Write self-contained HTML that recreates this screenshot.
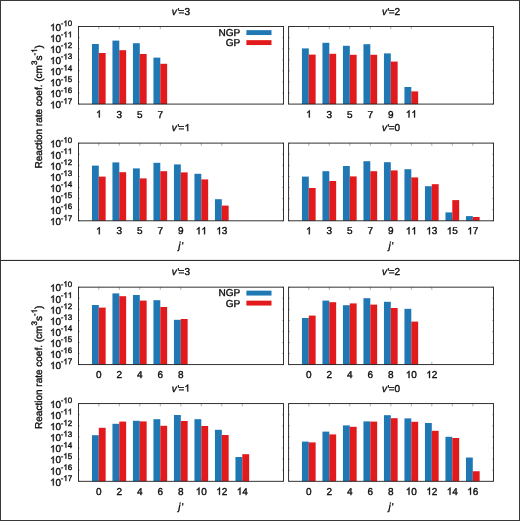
<!DOCTYPE html>
<html><head><meta charset="utf-8"><title>chart</title>
<style>
html,body{margin:0;padding:0;background:#fff;}
body{width:520px;height:521px;overflow:hidden;}
svg{display:block;text-rendering:geometricPrecision;}
.t{font-family:"Liberation Sans",sans-serif;font-size:10px;fill:#0c0c0c;stroke:#0c0c0c;stroke-width:0.36px;}
.s{font-size:8px;}
.g{fill:#0c0c0c;stroke:#0c0c0c;}
</style></head><body>
<svg width="520" height="521" viewBox="0 0 520 521">
<rect x="0" y="0" width="520" height="521" fill="#fff"/>
<defs><path id="o" d="M763 0H583V1147Q518 1085 412.5 1023Q307 961 223 930V1104Q374 1175 487 1276Q600 1377 647 1472H763Z"/></defs>
<g stroke="#555" stroke-width="0.45" fill="none">
<path d="M78.46 26.54h1.4M283.45 26.54h-1.4"/>
<path d="M78.46 37.62h1.4M283.45 37.62h-1.4"/>
<path d="M78.46 48.69h1.4M283.45 48.69h-1.4"/>
<path d="M78.46 59.77h1.4M283.45 59.77h-1.4"/>
<path d="M78.46 70.85h1.4M283.45 70.85h-1.4"/>
<path d="M78.46 81.93h1.4M283.45 81.93h-1.4"/>
<path d="M78.46 93.00h1.4M283.45 93.00h-1.4"/>
<path d="M78.46 104.08h1.4M283.45 104.08h-1.4"/>
<path d="M98.80 26.54v2.8M98.80 104.08v-2.8"/>
<path d="M119.30 26.54v2.8M119.30 104.08v-2.8"/>
<path d="M139.80 26.54v2.8M139.80 104.08v-2.8"/>
<path d="M160.30 26.54v2.8M160.30 104.08v-2.8"/>
</g>
<rect x="91.95" y="44.00" width="6.85" height="60.08" fill="#1f78b4"/>
<rect x="98.80" y="53.00" width="6.85" height="51.08" fill="#e31a1c"/>
<rect x="112.45" y="40.60" width="6.85" height="63.48" fill="#1f78b4"/>
<rect x="119.30" y="50.20" width="6.85" height="53.88" fill="#e31a1c"/>
<rect x="132.95" y="43.20" width="6.85" height="60.88" fill="#1f78b4"/>
<rect x="139.80" y="54.00" width="6.85" height="50.08" fill="#e31a1c"/>
<rect x="153.45" y="57.60" width="6.85" height="46.48" fill="#1f78b4"/>
<rect x="160.30" y="63.80" width="6.85" height="40.28" fill="#e31a1c"/>
<rect x="78.46" y="26.54" width="204.99" height="77.54" fill="none" stroke="#1c1c1c" stroke-width="0.9"/>
<g stroke="#555" stroke-width="0.45" fill="none">
<path d="M288.60 26.54h1.4M493.45 26.54h-1.4"/>
<path d="M288.60 37.62h1.4M493.45 37.62h-1.4"/>
<path d="M288.60 48.69h1.4M493.45 48.69h-1.4"/>
<path d="M288.60 59.77h1.4M493.45 59.77h-1.4"/>
<path d="M288.60 70.85h1.4M493.45 70.85h-1.4"/>
<path d="M288.60 81.93h1.4M493.45 81.93h-1.4"/>
<path d="M288.60 93.00h1.4M493.45 93.00h-1.4"/>
<path d="M288.60 104.08h1.4M493.45 104.08h-1.4"/>
<path d="M308.80 26.54v2.8M308.80 104.08v-2.8"/>
<path d="M329.30 26.54v2.8M329.30 104.08v-2.8"/>
<path d="M349.80 26.54v2.8M349.80 104.08v-2.8"/>
<path d="M370.30 26.54v2.8M370.30 104.08v-2.8"/>
<path d="M390.80 26.54v2.8M390.80 104.08v-2.8"/>
<path d="M411.30 26.54v2.8M411.30 104.08v-2.8"/>
</g>
<rect x="301.95" y="48.40" width="6.85" height="55.68" fill="#1f78b4"/>
<rect x="308.80" y="54.60" width="6.85" height="49.48" fill="#e31a1c"/>
<rect x="322.45" y="42.80" width="6.85" height="61.28" fill="#1f78b4"/>
<rect x="329.30" y="53.80" width="6.85" height="50.28" fill="#e31a1c"/>
<rect x="342.95" y="45.80" width="6.85" height="58.28" fill="#1f78b4"/>
<rect x="349.80" y="54.80" width="6.85" height="49.28" fill="#e31a1c"/>
<rect x="363.45" y="44.20" width="6.85" height="59.88" fill="#1f78b4"/>
<rect x="370.30" y="54.80" width="6.85" height="49.28" fill="#e31a1c"/>
<rect x="383.95" y="53.40" width="6.85" height="50.68" fill="#1f78b4"/>
<rect x="390.80" y="61.60" width="6.85" height="42.48" fill="#e31a1c"/>
<rect x="404.45" y="87.00" width="6.85" height="17.08" fill="#1f78b4"/>
<rect x="411.30" y="91.40" width="6.85" height="12.68" fill="#e31a1c"/>
<rect x="288.60" y="26.54" width="204.85" height="77.54" fill="none" stroke="#1c1c1c" stroke-width="0.9"/>
<g stroke="#555" stroke-width="0.45" fill="none">
<path d="M78.46 143.10h1.4M283.45 143.10h-1.4"/>
<path d="M78.46 154.20h1.4M283.45 154.20h-1.4"/>
<path d="M78.46 165.30h1.4M283.45 165.30h-1.4"/>
<path d="M78.46 176.40h1.4M283.45 176.40h-1.4"/>
<path d="M78.46 187.50h1.4M283.45 187.50h-1.4"/>
<path d="M78.46 198.60h1.4M283.45 198.60h-1.4"/>
<path d="M78.46 209.70h1.4M283.45 209.70h-1.4"/>
<path d="M78.46 220.80h1.4M283.45 220.80h-1.4"/>
<path d="M98.80 143.10v2.8M98.80 220.80v-2.8"/>
<path d="M119.30 143.10v2.8M119.30 220.80v-2.8"/>
<path d="M139.80 143.10v2.8M139.80 220.80v-2.8"/>
<path d="M160.30 143.10v2.8M160.30 220.80v-2.8"/>
<path d="M180.80 143.10v2.8M180.80 220.80v-2.8"/>
<path d="M201.30 143.10v2.8M201.30 220.80v-2.8"/>
<path d="M221.80 143.10v2.8M221.80 220.80v-2.8"/>
</g>
<rect x="91.95" y="165.60" width="6.85" height="55.20" fill="#1f78b4"/>
<rect x="98.80" y="176.60" width="6.85" height="44.20" fill="#e31a1c"/>
<rect x="112.45" y="162.40" width="6.85" height="58.40" fill="#1f78b4"/>
<rect x="119.30" y="172.20" width="6.85" height="48.60" fill="#e31a1c"/>
<rect x="132.95" y="168.40" width="6.85" height="52.40" fill="#1f78b4"/>
<rect x="139.80" y="178.40" width="6.85" height="42.40" fill="#e31a1c"/>
<rect x="153.45" y="162.80" width="6.85" height="58.00" fill="#1f78b4"/>
<rect x="160.30" y="171.20" width="6.85" height="49.60" fill="#e31a1c"/>
<rect x="173.95" y="164.40" width="6.85" height="56.40" fill="#1f78b4"/>
<rect x="180.80" y="172.40" width="6.85" height="48.40" fill="#e31a1c"/>
<rect x="194.45" y="173.80" width="6.85" height="47.00" fill="#1f78b4"/>
<rect x="201.30" y="179.40" width="6.85" height="41.40" fill="#e31a1c"/>
<rect x="214.95" y="199.20" width="6.85" height="21.60" fill="#1f78b4"/>
<rect x="221.80" y="205.60" width="6.85" height="15.20" fill="#e31a1c"/>
<rect x="78.46" y="143.10" width="204.99" height="77.70" fill="none" stroke="#1c1c1c" stroke-width="0.9"/>
<g stroke="#555" stroke-width="0.45" fill="none">
<path d="M288.60 143.10h1.4M493.45 143.10h-1.4"/>
<path d="M288.60 154.20h1.4M493.45 154.20h-1.4"/>
<path d="M288.60 165.30h1.4M493.45 165.30h-1.4"/>
<path d="M288.60 176.40h1.4M493.45 176.40h-1.4"/>
<path d="M288.60 187.50h1.4M493.45 187.50h-1.4"/>
<path d="M288.60 198.60h1.4M493.45 198.60h-1.4"/>
<path d="M288.60 209.70h1.4M493.45 209.70h-1.4"/>
<path d="M288.60 220.80h1.4M493.45 220.80h-1.4"/>
<path d="M308.80 143.10v2.8M308.80 220.80v-2.8"/>
<path d="M329.30 143.10v2.8M329.30 220.80v-2.8"/>
<path d="M349.80 143.10v2.8M349.80 220.80v-2.8"/>
<path d="M370.30 143.10v2.8M370.30 220.80v-2.8"/>
<path d="M390.80 143.10v2.8M390.80 220.80v-2.8"/>
<path d="M411.30 143.10v2.8M411.30 220.80v-2.8"/>
<path d="M431.80 143.10v2.8M431.80 220.80v-2.8"/>
<path d="M452.30 143.10v2.8M452.30 220.80v-2.8"/>
<path d="M472.80 143.10v2.8M472.80 220.80v-2.8"/>
</g>
<rect x="301.95" y="176.60" width="6.85" height="44.20" fill="#1f78b4"/>
<rect x="308.80" y="188.00" width="6.85" height="32.80" fill="#e31a1c"/>
<rect x="322.45" y="171.20" width="6.85" height="49.60" fill="#1f78b4"/>
<rect x="329.30" y="181.00" width="6.85" height="39.80" fill="#e31a1c"/>
<rect x="342.95" y="166.00" width="6.85" height="54.80" fill="#1f78b4"/>
<rect x="349.80" y="176.40" width="6.85" height="44.40" fill="#e31a1c"/>
<rect x="363.45" y="161.20" width="6.85" height="59.60" fill="#1f78b4"/>
<rect x="370.30" y="171.20" width="6.85" height="49.60" fill="#e31a1c"/>
<rect x="383.95" y="162.20" width="6.85" height="58.60" fill="#1f78b4"/>
<rect x="390.80" y="170.40" width="6.85" height="50.40" fill="#e31a1c"/>
<rect x="404.45" y="169.20" width="6.85" height="51.60" fill="#1f78b4"/>
<rect x="411.30" y="177.40" width="6.85" height="43.40" fill="#e31a1c"/>
<rect x="424.95" y="186.20" width="6.85" height="34.60" fill="#1f78b4"/>
<rect x="431.80" y="184.20" width="6.85" height="36.60" fill="#e31a1c"/>
<rect x="445.45" y="212.40" width="6.85" height="8.40" fill="#1f78b4"/>
<rect x="452.30" y="200.10" width="6.85" height="20.70" fill="#e31a1c"/>
<rect x="465.95" y="216.10" width="6.85" height="4.70" fill="#1f78b4"/>
<rect x="472.80" y="217.00" width="6.85" height="3.80" fill="#e31a1c"/>
<rect x="288.60" y="143.10" width="204.85" height="77.70" fill="none" stroke="#1c1c1c" stroke-width="0.9"/>
<g stroke="#555" stroke-width="0.45" fill="none">
<path d="M78.46 287.15h1.4M283.45 287.15h-1.4"/>
<path d="M78.46 298.21h1.4M283.45 298.21h-1.4"/>
<path d="M78.46 309.28h1.4M283.45 309.28h-1.4"/>
<path d="M78.46 320.34h1.4M283.45 320.34h-1.4"/>
<path d="M78.46 331.41h1.4M283.45 331.41h-1.4"/>
<path d="M78.46 342.47h1.4M283.45 342.47h-1.4"/>
<path d="M78.46 353.54h1.4M283.45 353.54h-1.4"/>
<path d="M78.46 364.60h1.4M283.45 364.60h-1.4"/>
<path d="M98.80 287.15v2.8M98.80 364.60v-2.8"/>
<path d="M119.30 287.15v2.8M119.30 364.60v-2.8"/>
<path d="M139.80 287.15v2.8M139.80 364.60v-2.8"/>
<path d="M160.30 287.15v2.8M160.30 364.60v-2.8"/>
<path d="M180.80 287.15v2.8M180.80 364.60v-2.8"/>
</g>
<rect x="91.95" y="305.00" width="6.85" height="59.60" fill="#1f78b4"/>
<rect x="98.80" y="307.60" width="6.85" height="57.00" fill="#e31a1c"/>
<rect x="112.45" y="293.40" width="6.85" height="71.20" fill="#1f78b4"/>
<rect x="119.30" y="296.20" width="6.85" height="68.40" fill="#e31a1c"/>
<rect x="132.95" y="295.00" width="6.85" height="69.60" fill="#1f78b4"/>
<rect x="139.80" y="300.60" width="6.85" height="64.00" fill="#e31a1c"/>
<rect x="153.45" y="300.20" width="6.85" height="64.40" fill="#1f78b4"/>
<rect x="160.30" y="307.00" width="6.85" height="57.60" fill="#e31a1c"/>
<rect x="173.95" y="319.80" width="6.85" height="44.80" fill="#1f78b4"/>
<rect x="180.80" y="319.00" width="6.85" height="45.60" fill="#e31a1c"/>
<rect x="78.46" y="287.15" width="204.99" height="77.45" fill="none" stroke="#1c1c1c" stroke-width="0.9"/>
<g stroke="#555" stroke-width="0.45" fill="none">
<path d="M288.60 287.15h1.4M493.45 287.15h-1.4"/>
<path d="M288.60 298.21h1.4M493.45 298.21h-1.4"/>
<path d="M288.60 309.28h1.4M493.45 309.28h-1.4"/>
<path d="M288.60 320.34h1.4M493.45 320.34h-1.4"/>
<path d="M288.60 331.41h1.4M493.45 331.41h-1.4"/>
<path d="M288.60 342.47h1.4M493.45 342.47h-1.4"/>
<path d="M288.60 353.54h1.4M493.45 353.54h-1.4"/>
<path d="M288.60 364.60h1.4M493.45 364.60h-1.4"/>
<path d="M308.80 287.15v2.8M308.80 364.60v-2.8"/>
<path d="M329.30 287.15v2.8M329.30 364.60v-2.8"/>
<path d="M349.80 287.15v2.8M349.80 364.60v-2.8"/>
<path d="M370.30 287.15v2.8M370.30 364.60v-2.8"/>
<path d="M390.80 287.15v2.8M390.80 364.60v-2.8"/>
<path d="M411.30 287.15v2.8M411.30 364.60v-2.8"/>
<path d="M431.80 287.15v2.8M431.80 364.60v-2.8"/>
</g>
<rect x="301.95" y="318.00" width="6.85" height="46.60" fill="#1f78b4"/>
<rect x="308.80" y="315.60" width="6.85" height="49.00" fill="#e31a1c"/>
<rect x="322.45" y="300.60" width="6.85" height="64.00" fill="#1f78b4"/>
<rect x="329.30" y="302.20" width="6.85" height="62.40" fill="#e31a1c"/>
<rect x="342.95" y="305.20" width="6.85" height="59.40" fill="#1f78b4"/>
<rect x="349.80" y="303.40" width="6.85" height="61.20" fill="#e31a1c"/>
<rect x="363.45" y="298.20" width="6.85" height="66.40" fill="#1f78b4"/>
<rect x="370.30" y="304.60" width="6.85" height="60.00" fill="#e31a1c"/>
<rect x="383.95" y="301.80" width="6.85" height="62.80" fill="#1f78b4"/>
<rect x="390.80" y="308.00" width="6.85" height="56.60" fill="#e31a1c"/>
<rect x="404.45" y="308.80" width="6.85" height="55.80" fill="#1f78b4"/>
<rect x="411.30" y="321.60" width="6.85" height="43.00" fill="#e31a1c"/>
<rect x="288.60" y="287.15" width="204.85" height="77.45" fill="none" stroke="#1c1c1c" stroke-width="0.9"/>
<g stroke="#555" stroke-width="0.45" fill="none">
<path d="M78.46 403.60h1.4M283.45 403.60h-1.4"/>
<path d="M78.46 414.70h1.4M283.45 414.70h-1.4"/>
<path d="M78.46 425.80h1.4M283.45 425.80h-1.4"/>
<path d="M78.46 436.90h1.4M283.45 436.90h-1.4"/>
<path d="M78.46 448.00h1.4M283.45 448.00h-1.4"/>
<path d="M78.46 459.10h1.4M283.45 459.10h-1.4"/>
<path d="M78.46 470.20h1.4M283.45 470.20h-1.4"/>
<path d="M78.46 481.30h1.4M283.45 481.30h-1.4"/>
<path d="M98.80 403.60v2.8M98.80 481.30v-2.8"/>
<path d="M119.30 403.60v2.8M119.30 481.30v-2.8"/>
<path d="M139.80 403.60v2.8M139.80 481.30v-2.8"/>
<path d="M160.30 403.60v2.8M160.30 481.30v-2.8"/>
<path d="M180.80 403.60v2.8M180.80 481.30v-2.8"/>
<path d="M201.30 403.60v2.8M201.30 481.30v-2.8"/>
<path d="M221.80 403.60v2.8M221.80 481.30v-2.8"/>
<path d="M242.30 403.60v2.8M242.30 481.30v-2.8"/>
</g>
<rect x="91.95" y="435.20" width="6.85" height="46.10" fill="#1f78b4"/>
<rect x="98.80" y="427.80" width="6.85" height="53.50" fill="#e31a1c"/>
<rect x="112.45" y="423.80" width="6.85" height="57.50" fill="#1f78b4"/>
<rect x="119.30" y="421.60" width="6.85" height="59.70" fill="#e31a1c"/>
<rect x="132.95" y="420.80" width="6.85" height="60.50" fill="#1f78b4"/>
<rect x="139.80" y="421.40" width="6.85" height="59.90" fill="#e31a1c"/>
<rect x="153.45" y="419.20" width="6.85" height="62.10" fill="#1f78b4"/>
<rect x="160.30" y="425.80" width="6.85" height="55.50" fill="#e31a1c"/>
<rect x="173.95" y="415.00" width="6.85" height="66.30" fill="#1f78b4"/>
<rect x="180.80" y="421.00" width="6.85" height="60.30" fill="#e31a1c"/>
<rect x="194.45" y="419.20" width="6.85" height="62.10" fill="#1f78b4"/>
<rect x="201.30" y="426.00" width="6.85" height="55.30" fill="#e31a1c"/>
<rect x="214.95" y="429.80" width="6.85" height="51.50" fill="#1f78b4"/>
<rect x="221.80" y="435.00" width="6.85" height="46.30" fill="#e31a1c"/>
<rect x="235.45" y="457.00" width="6.85" height="24.30" fill="#1f78b4"/>
<rect x="242.30" y="454.20" width="6.85" height="27.10" fill="#e31a1c"/>
<rect x="78.46" y="403.60" width="204.99" height="77.70" fill="none" stroke="#1c1c1c" stroke-width="0.9"/>
<g stroke="#555" stroke-width="0.45" fill="none">
<path d="M288.60 403.60h1.4M493.45 403.60h-1.4"/>
<path d="M288.60 414.70h1.4M493.45 414.70h-1.4"/>
<path d="M288.60 425.80h1.4M493.45 425.80h-1.4"/>
<path d="M288.60 436.90h1.4M493.45 436.90h-1.4"/>
<path d="M288.60 448.00h1.4M493.45 448.00h-1.4"/>
<path d="M288.60 459.10h1.4M493.45 459.10h-1.4"/>
<path d="M288.60 470.20h1.4M493.45 470.20h-1.4"/>
<path d="M288.60 481.30h1.4M493.45 481.30h-1.4"/>
<path d="M308.80 403.60v2.8M308.80 481.30v-2.8"/>
<path d="M329.30 403.60v2.8M329.30 481.30v-2.8"/>
<path d="M349.80 403.60v2.8M349.80 481.30v-2.8"/>
<path d="M370.30 403.60v2.8M370.30 481.30v-2.8"/>
<path d="M390.80 403.60v2.8M390.80 481.30v-2.8"/>
<path d="M411.30 403.60v2.8M411.30 481.30v-2.8"/>
<path d="M431.80 403.60v2.8M431.80 481.30v-2.8"/>
<path d="M452.30 403.60v2.8M452.30 481.30v-2.8"/>
<path d="M472.80 403.60v2.8M472.80 481.30v-2.8"/>
</g>
<rect x="301.95" y="441.60" width="6.85" height="39.70" fill="#1f78b4"/>
<rect x="308.80" y="442.40" width="6.85" height="38.90" fill="#e31a1c"/>
<rect x="322.45" y="431.60" width="6.85" height="49.70" fill="#1f78b4"/>
<rect x="329.30" y="434.40" width="6.85" height="46.90" fill="#e31a1c"/>
<rect x="342.95" y="425.40" width="6.85" height="55.90" fill="#1f78b4"/>
<rect x="349.80" y="426.80" width="6.85" height="54.50" fill="#e31a1c"/>
<rect x="363.45" y="421.40" width="6.85" height="59.90" fill="#1f78b4"/>
<rect x="370.30" y="421.60" width="6.85" height="59.70" fill="#e31a1c"/>
<rect x="383.95" y="415.20" width="6.85" height="66.10" fill="#1f78b4"/>
<rect x="390.80" y="418.20" width="6.85" height="63.10" fill="#e31a1c"/>
<rect x="404.45" y="418.40" width="6.85" height="62.90" fill="#1f78b4"/>
<rect x="411.30" y="421.80" width="6.85" height="59.50" fill="#e31a1c"/>
<rect x="424.95" y="423.00" width="6.85" height="58.30" fill="#1f78b4"/>
<rect x="431.80" y="430.80" width="6.85" height="50.50" fill="#e31a1c"/>
<rect x="445.45" y="436.80" width="6.85" height="44.50" fill="#1f78b4"/>
<rect x="452.30" y="438.00" width="6.85" height="43.30" fill="#e31a1c"/>
<rect x="465.95" y="457.50" width="6.85" height="23.80" fill="#1f78b4"/>
<rect x="472.80" y="471.25" width="6.85" height="10.05" fill="#e31a1c"/>
<rect x="288.60" y="403.60" width="204.85" height="77.70" fill="none" stroke="#1c1c1c" stroke-width="0.9"/>
<rect x="246.4" y="30.15" width="25.1" height="4.9" fill="#1f78b4"/>
<rect x="246.4" y="40.15" width="25.1" height="4.9" fill="#e31a1c"/>
<rect x="246.4" y="290.65" width="25.1" height="4.9" fill="#1f78b4"/>
<rect x="246.4" y="300.65" width="25.1" height="4.9" fill="#e31a1c"/>
<g style="filter:grayscale(1)">
<text class="t" x="171.80" y="14.54"><tspan font-style="italic">v</tspan><tspan dx="0.6">'</tspan><tspan dx="-0.7">=</tspan></text>
<text class="t" x="184.45" y="14.54">3</text>
<use class="g" href="#o" stroke-width="73.7" transform="translate(96.02 117.53) scale(0.00488 -0.00488)"/>
<text class="t" x="116.52" y="117.53">3</text>
<text class="t" x="137.02" y="117.53">5</text>
<text class="t" x="157.52" y="117.53">7</text>
<use class="g" href="#o" stroke-width="73.7" transform="translate(50.00 30.84) scale(0.00488 -0.00488)"/>
<text class="t" x="55.56" y="30.84">0</text>
<text class="t s" x="60.65" y="26.24">-</text>
<use class="g" href="#o" stroke-width="92.2" transform="translate(63.31 26.24) scale(0.00391 -0.00391)"/>
<text class="t s" x="67.76" y="26.24">0</text>
<use class="g" href="#o" stroke-width="73.7" transform="translate(50.00 41.92) scale(0.00488 -0.00488)"/>
<text class="t" x="55.56" y="41.92">0</text>
<text class="t s" x="60.65" y="37.32">-</text>
<use class="g" href="#o" stroke-width="92.2" transform="translate(63.31 37.32) scale(0.00391 -0.00391)"/>
<use class="g" href="#o" stroke-width="92.2" transform="translate(67.76 37.32) scale(0.00391 -0.00391)"/>
<use class="g" href="#o" stroke-width="73.7" transform="translate(50.00 52.99) scale(0.00488 -0.00488)"/>
<text class="t" x="55.56" y="52.99">0</text>
<text class="t s" x="60.65" y="48.39">-</text>
<use class="g" href="#o" stroke-width="92.2" transform="translate(63.31 48.39) scale(0.00391 -0.00391)"/>
<text class="t s" x="67.76" y="48.39">2</text>
<use class="g" href="#o" stroke-width="73.7" transform="translate(50.00 64.07) scale(0.00488 -0.00488)"/>
<text class="t" x="55.56" y="64.07">0</text>
<text class="t s" x="60.65" y="59.47">-</text>
<use class="g" href="#o" stroke-width="92.2" transform="translate(63.31 59.47) scale(0.00391 -0.00391)"/>
<text class="t s" x="67.76" y="59.47">3</text>
<use class="g" href="#o" stroke-width="73.7" transform="translate(50.00 75.15) scale(0.00488 -0.00488)"/>
<text class="t" x="55.56" y="75.15">0</text>
<text class="t s" x="60.65" y="70.55">-</text>
<use class="g" href="#o" stroke-width="92.2" transform="translate(63.31 70.55) scale(0.00391 -0.00391)"/>
<text class="t s" x="67.76" y="70.55">4</text>
<use class="g" href="#o" stroke-width="73.7" transform="translate(50.00 86.23) scale(0.00488 -0.00488)"/>
<text class="t" x="55.56" y="86.23">0</text>
<text class="t s" x="60.65" y="81.63">-</text>
<use class="g" href="#o" stroke-width="92.2" transform="translate(63.31 81.63) scale(0.00391 -0.00391)"/>
<text class="t s" x="67.76" y="81.63">5</text>
<use class="g" href="#o" stroke-width="73.7" transform="translate(50.00 97.30) scale(0.00488 -0.00488)"/>
<text class="t" x="55.56" y="97.30">0</text>
<text class="t s" x="60.65" y="92.70">-</text>
<use class="g" href="#o" stroke-width="92.2" transform="translate(63.31 92.70) scale(0.00391 -0.00391)"/>
<text class="t s" x="67.76" y="92.70">6</text>
<use class="g" href="#o" stroke-width="73.7" transform="translate(50.00 108.38) scale(0.00488 -0.00488)"/>
<text class="t" x="55.56" y="108.38">0</text>
<text class="t s" x="60.65" y="103.78">-</text>
<use class="g" href="#o" stroke-width="92.2" transform="translate(63.31 103.78) scale(0.00391 -0.00391)"/>
<text class="t s" x="67.76" y="103.78">7</text>
<text class="t" x="381.88" y="14.54"><tspan font-style="italic">v</tspan><tspan dx="0.6">'</tspan><tspan dx="-0.7">=</tspan></text>
<text class="t" x="394.52" y="14.54">2</text>
<use class="g" href="#o" stroke-width="73.7" transform="translate(306.02 117.53) scale(0.00488 -0.00488)"/>
<text class="t" x="326.52" y="117.53">3</text>
<text class="t" x="347.02" y="117.53">5</text>
<text class="t" x="367.52" y="117.53">7</text>
<text class="t" x="388.02" y="117.53">9</text>
<use class="g" href="#o" stroke-width="73.7" transform="translate(405.74 117.53) scale(0.00488 -0.00488)"/>
<use class="g" href="#o" stroke-width="73.7" transform="translate(411.30 117.53) scale(0.00488 -0.00488)"/>
<text class="t" x="171.80" y="131.10"><tspan font-style="italic">v</tspan><tspan dx="0.6">'</tspan><tspan dx="-0.7">=</tspan></text>
<use class="g" href="#o" stroke-width="73.7" transform="translate(184.45 131.10) scale(0.00488 -0.00488)"/>
<use class="g" href="#o" stroke-width="73.7" transform="translate(96.02 234.25) scale(0.00488 -0.00488)"/>
<text class="t" x="116.52" y="234.25">3</text>
<text class="t" x="137.02" y="234.25">5</text>
<text class="t" x="157.52" y="234.25">7</text>
<text class="t" x="178.02" y="234.25">9</text>
<use class="g" href="#o" stroke-width="73.7" transform="translate(195.74 234.25) scale(0.00488 -0.00488)"/>
<use class="g" href="#o" stroke-width="73.7" transform="translate(201.30 234.25) scale(0.00488 -0.00488)"/>
<use class="g" href="#o" stroke-width="73.7" transform="translate(216.24 234.25) scale(0.00488 -0.00488)"/>
<text class="t" x="221.80" y="234.25">3</text>
<use class="g" href="#o" stroke-width="73.7" transform="translate(50.00 147.40) scale(0.00488 -0.00488)"/>
<text class="t" x="55.56" y="147.40">0</text>
<text class="t s" x="60.65" y="142.80">-</text>
<use class="g" href="#o" stroke-width="92.2" transform="translate(63.31 142.80) scale(0.00391 -0.00391)"/>
<text class="t s" x="67.76" y="142.80">0</text>
<use class="g" href="#o" stroke-width="73.7" transform="translate(50.00 158.50) scale(0.00488 -0.00488)"/>
<text class="t" x="55.56" y="158.50">0</text>
<text class="t s" x="60.65" y="153.90">-</text>
<use class="g" href="#o" stroke-width="92.2" transform="translate(63.31 153.90) scale(0.00391 -0.00391)"/>
<use class="g" href="#o" stroke-width="92.2" transform="translate(67.76 153.90) scale(0.00391 -0.00391)"/>
<use class="g" href="#o" stroke-width="73.7" transform="translate(50.00 169.60) scale(0.00488 -0.00488)"/>
<text class="t" x="55.56" y="169.60">0</text>
<text class="t s" x="60.65" y="165.00">-</text>
<use class="g" href="#o" stroke-width="92.2" transform="translate(63.31 165.00) scale(0.00391 -0.00391)"/>
<text class="t s" x="67.76" y="165.00">2</text>
<use class="g" href="#o" stroke-width="73.7" transform="translate(50.00 180.70) scale(0.00488 -0.00488)"/>
<text class="t" x="55.56" y="180.70">0</text>
<text class="t s" x="60.65" y="176.10">-</text>
<use class="g" href="#o" stroke-width="92.2" transform="translate(63.31 176.10) scale(0.00391 -0.00391)"/>
<text class="t s" x="67.76" y="176.10">3</text>
<use class="g" href="#o" stroke-width="73.7" transform="translate(50.00 191.80) scale(0.00488 -0.00488)"/>
<text class="t" x="55.56" y="191.80">0</text>
<text class="t s" x="60.65" y="187.20">-</text>
<use class="g" href="#o" stroke-width="92.2" transform="translate(63.31 187.20) scale(0.00391 -0.00391)"/>
<text class="t s" x="67.76" y="187.20">4</text>
<use class="g" href="#o" stroke-width="73.7" transform="translate(50.00 202.90) scale(0.00488 -0.00488)"/>
<text class="t" x="55.56" y="202.90">0</text>
<text class="t s" x="60.65" y="198.30">-</text>
<use class="g" href="#o" stroke-width="92.2" transform="translate(63.31 198.30) scale(0.00391 -0.00391)"/>
<text class="t s" x="67.76" y="198.30">5</text>
<use class="g" href="#o" stroke-width="73.7" transform="translate(50.00 214.00) scale(0.00488 -0.00488)"/>
<text class="t" x="55.56" y="214.00">0</text>
<text class="t s" x="60.65" y="209.40">-</text>
<use class="g" href="#o" stroke-width="92.2" transform="translate(63.31 209.40) scale(0.00391 -0.00391)"/>
<text class="t s" x="67.76" y="209.40">6</text>
<use class="g" href="#o" stroke-width="73.7" transform="translate(50.00 225.10) scale(0.00488 -0.00488)"/>
<text class="t" x="55.56" y="225.10">0</text>
<text class="t s" x="60.65" y="220.50">-</text>
<use class="g" href="#o" stroke-width="92.2" transform="translate(63.31 220.50) scale(0.00391 -0.00391)"/>
<text class="t s" x="67.76" y="220.50">7</text>
<text class="t" x="180.95" y="249.10" text-anchor="middle"><tspan font-style="italic">j</tspan><tspan dx="1.1">'</tspan></text>
<text class="t" x="381.88" y="131.10"><tspan font-style="italic">v</tspan><tspan dx="0.6">'</tspan><tspan dx="-0.7">=</tspan></text>
<text class="t" x="394.52" y="131.10">0</text>
<use class="g" href="#o" stroke-width="73.7" transform="translate(306.02 234.25) scale(0.00488 -0.00488)"/>
<text class="t" x="326.52" y="234.25">3</text>
<text class="t" x="347.02" y="234.25">5</text>
<text class="t" x="367.52" y="234.25">7</text>
<text class="t" x="388.02" y="234.25">9</text>
<use class="g" href="#o" stroke-width="73.7" transform="translate(405.74 234.25) scale(0.00488 -0.00488)"/>
<use class="g" href="#o" stroke-width="73.7" transform="translate(411.30 234.25) scale(0.00488 -0.00488)"/>
<use class="g" href="#o" stroke-width="73.7" transform="translate(426.24 234.25) scale(0.00488 -0.00488)"/>
<text class="t" x="431.80" y="234.25">3</text>
<use class="g" href="#o" stroke-width="73.7" transform="translate(446.74 234.25) scale(0.00488 -0.00488)"/>
<text class="t" x="452.30" y="234.25">5</text>
<use class="g" href="#o" stroke-width="73.7" transform="translate(467.24 234.25) scale(0.00488 -0.00488)"/>
<text class="t" x="472.80" y="234.25">7</text>
<text class="t" x="391.02" y="249.10" text-anchor="middle"><tspan font-style="italic">j</tspan><tspan dx="1.1">'</tspan></text>
<text class="t" x="171.80" y="275.15"><tspan font-style="italic">v</tspan><tspan dx="0.6">'</tspan><tspan dx="-0.7">=</tspan></text>
<text class="t" x="184.45" y="275.15">3</text>
<text class="t" x="96.02" y="378.05">0</text>
<text class="t" x="116.52" y="378.05">2</text>
<text class="t" x="137.02" y="378.05">4</text>
<text class="t" x="157.52" y="378.05">6</text>
<text class="t" x="178.02" y="378.05">8</text>
<use class="g" href="#o" stroke-width="73.7" transform="translate(50.00 291.45) scale(0.00488 -0.00488)"/>
<text class="t" x="55.56" y="291.45">0</text>
<text class="t s" x="60.65" y="286.85">-</text>
<use class="g" href="#o" stroke-width="92.2" transform="translate(63.31 286.85) scale(0.00391 -0.00391)"/>
<text class="t s" x="67.76" y="286.85">0</text>
<use class="g" href="#o" stroke-width="73.7" transform="translate(50.00 302.51) scale(0.00488 -0.00488)"/>
<text class="t" x="55.56" y="302.51">0</text>
<text class="t s" x="60.65" y="297.91">-</text>
<use class="g" href="#o" stroke-width="92.2" transform="translate(63.31 297.91) scale(0.00391 -0.00391)"/>
<use class="g" href="#o" stroke-width="92.2" transform="translate(67.76 297.91) scale(0.00391 -0.00391)"/>
<use class="g" href="#o" stroke-width="73.7" transform="translate(50.00 313.58) scale(0.00488 -0.00488)"/>
<text class="t" x="55.56" y="313.58">0</text>
<text class="t s" x="60.65" y="308.98">-</text>
<use class="g" href="#o" stroke-width="92.2" transform="translate(63.31 308.98) scale(0.00391 -0.00391)"/>
<text class="t s" x="67.76" y="308.98">2</text>
<use class="g" href="#o" stroke-width="73.7" transform="translate(50.00 324.64) scale(0.00488 -0.00488)"/>
<text class="t" x="55.56" y="324.64">0</text>
<text class="t s" x="60.65" y="320.04">-</text>
<use class="g" href="#o" stroke-width="92.2" transform="translate(63.31 320.04) scale(0.00391 -0.00391)"/>
<text class="t s" x="67.76" y="320.04">3</text>
<use class="g" href="#o" stroke-width="73.7" transform="translate(50.00 335.71) scale(0.00488 -0.00488)"/>
<text class="t" x="55.56" y="335.71">0</text>
<text class="t s" x="60.65" y="331.11">-</text>
<use class="g" href="#o" stroke-width="92.2" transform="translate(63.31 331.11) scale(0.00391 -0.00391)"/>
<text class="t s" x="67.76" y="331.11">4</text>
<use class="g" href="#o" stroke-width="73.7" transform="translate(50.00 346.77) scale(0.00488 -0.00488)"/>
<text class="t" x="55.56" y="346.77">0</text>
<text class="t s" x="60.65" y="342.17">-</text>
<use class="g" href="#o" stroke-width="92.2" transform="translate(63.31 342.17) scale(0.00391 -0.00391)"/>
<text class="t s" x="67.76" y="342.17">5</text>
<use class="g" href="#o" stroke-width="73.7" transform="translate(50.00 357.84) scale(0.00488 -0.00488)"/>
<text class="t" x="55.56" y="357.84">0</text>
<text class="t s" x="60.65" y="353.24">-</text>
<use class="g" href="#o" stroke-width="92.2" transform="translate(63.31 353.24) scale(0.00391 -0.00391)"/>
<text class="t s" x="67.76" y="353.24">6</text>
<use class="g" href="#o" stroke-width="73.7" transform="translate(50.00 368.90) scale(0.00488 -0.00488)"/>
<text class="t" x="55.56" y="368.90">0</text>
<text class="t s" x="60.65" y="364.30">-</text>
<use class="g" href="#o" stroke-width="92.2" transform="translate(63.31 364.30) scale(0.00391 -0.00391)"/>
<text class="t s" x="67.76" y="364.30">7</text>
<text class="t" x="381.88" y="275.15"><tspan font-style="italic">v</tspan><tspan dx="0.6">'</tspan><tspan dx="-0.7">=</tspan></text>
<text class="t" x="394.52" y="275.15">2</text>
<text class="t" x="306.02" y="378.05">0</text>
<text class="t" x="326.52" y="378.05">2</text>
<text class="t" x="347.02" y="378.05">4</text>
<text class="t" x="367.52" y="378.05">6</text>
<text class="t" x="388.02" y="378.05">8</text>
<use class="g" href="#o" stroke-width="73.7" transform="translate(405.74 378.05) scale(0.00488 -0.00488)"/>
<text class="t" x="411.30" y="378.05">0</text>
<use class="g" href="#o" stroke-width="73.7" transform="translate(426.24 378.05) scale(0.00488 -0.00488)"/>
<text class="t" x="431.80" y="378.05">2</text>
<text class="t" x="171.80" y="391.60"><tspan font-style="italic">v</tspan><tspan dx="0.6">'</tspan><tspan dx="-0.7">=</tspan></text>
<use class="g" href="#o" stroke-width="73.7" transform="translate(184.45 391.60) scale(0.00488 -0.00488)"/>
<text class="t" x="96.02" y="494.75">0</text>
<text class="t" x="116.52" y="494.75">2</text>
<text class="t" x="137.02" y="494.75">4</text>
<text class="t" x="157.52" y="494.75">6</text>
<text class="t" x="178.02" y="494.75">8</text>
<use class="g" href="#o" stroke-width="73.7" transform="translate(195.74 494.75) scale(0.00488 -0.00488)"/>
<text class="t" x="201.30" y="494.75">0</text>
<use class="g" href="#o" stroke-width="73.7" transform="translate(216.24 494.75) scale(0.00488 -0.00488)"/>
<text class="t" x="221.80" y="494.75">2</text>
<use class="g" href="#o" stroke-width="73.7" transform="translate(236.74 494.75) scale(0.00488 -0.00488)"/>
<text class="t" x="242.30" y="494.75">4</text>
<use class="g" href="#o" stroke-width="73.7" transform="translate(50.00 407.90) scale(0.00488 -0.00488)"/>
<text class="t" x="55.56" y="407.90">0</text>
<text class="t s" x="60.65" y="403.30">-</text>
<use class="g" href="#o" stroke-width="92.2" transform="translate(63.31 403.30) scale(0.00391 -0.00391)"/>
<text class="t s" x="67.76" y="403.30">0</text>
<use class="g" href="#o" stroke-width="73.7" transform="translate(50.00 419.00) scale(0.00488 -0.00488)"/>
<text class="t" x="55.56" y="419.00">0</text>
<text class="t s" x="60.65" y="414.40">-</text>
<use class="g" href="#o" stroke-width="92.2" transform="translate(63.31 414.40) scale(0.00391 -0.00391)"/>
<use class="g" href="#o" stroke-width="92.2" transform="translate(67.76 414.40) scale(0.00391 -0.00391)"/>
<use class="g" href="#o" stroke-width="73.7" transform="translate(50.00 430.10) scale(0.00488 -0.00488)"/>
<text class="t" x="55.56" y="430.10">0</text>
<text class="t s" x="60.65" y="425.50">-</text>
<use class="g" href="#o" stroke-width="92.2" transform="translate(63.31 425.50) scale(0.00391 -0.00391)"/>
<text class="t s" x="67.76" y="425.50">2</text>
<use class="g" href="#o" stroke-width="73.7" transform="translate(50.00 441.20) scale(0.00488 -0.00488)"/>
<text class="t" x="55.56" y="441.20">0</text>
<text class="t s" x="60.65" y="436.60">-</text>
<use class="g" href="#o" stroke-width="92.2" transform="translate(63.31 436.60) scale(0.00391 -0.00391)"/>
<text class="t s" x="67.76" y="436.60">3</text>
<use class="g" href="#o" stroke-width="73.7" transform="translate(50.00 452.30) scale(0.00488 -0.00488)"/>
<text class="t" x="55.56" y="452.30">0</text>
<text class="t s" x="60.65" y="447.70">-</text>
<use class="g" href="#o" stroke-width="92.2" transform="translate(63.31 447.70) scale(0.00391 -0.00391)"/>
<text class="t s" x="67.76" y="447.70">4</text>
<use class="g" href="#o" stroke-width="73.7" transform="translate(50.00 463.40) scale(0.00488 -0.00488)"/>
<text class="t" x="55.56" y="463.40">0</text>
<text class="t s" x="60.65" y="458.80">-</text>
<use class="g" href="#o" stroke-width="92.2" transform="translate(63.31 458.80) scale(0.00391 -0.00391)"/>
<text class="t s" x="67.76" y="458.80">5</text>
<use class="g" href="#o" stroke-width="73.7" transform="translate(50.00 474.50) scale(0.00488 -0.00488)"/>
<text class="t" x="55.56" y="474.50">0</text>
<text class="t s" x="60.65" y="469.90">-</text>
<use class="g" href="#o" stroke-width="92.2" transform="translate(63.31 469.90) scale(0.00391 -0.00391)"/>
<text class="t s" x="67.76" y="469.90">6</text>
<use class="g" href="#o" stroke-width="73.7" transform="translate(50.00 485.60) scale(0.00488 -0.00488)"/>
<text class="t" x="55.56" y="485.60">0</text>
<text class="t s" x="60.65" y="481.00">-</text>
<use class="g" href="#o" stroke-width="92.2" transform="translate(63.31 481.00) scale(0.00391 -0.00391)"/>
<text class="t s" x="67.76" y="481.00">7</text>
<text class="t" x="180.95" y="509.60" text-anchor="middle"><tspan font-style="italic">j</tspan><tspan dx="1.1">'</tspan></text>
<text class="t" x="381.88" y="391.60"><tspan font-style="italic">v</tspan><tspan dx="0.6">'</tspan><tspan dx="-0.7">=</tspan></text>
<text class="t" x="394.52" y="391.60">0</text>
<text class="t" x="306.02" y="494.75">0</text>
<text class="t" x="326.52" y="494.75">2</text>
<text class="t" x="347.02" y="494.75">4</text>
<text class="t" x="367.52" y="494.75">6</text>
<text class="t" x="388.02" y="494.75">8</text>
<use class="g" href="#o" stroke-width="73.7" transform="translate(405.74 494.75) scale(0.00488 -0.00488)"/>
<text class="t" x="411.30" y="494.75">0</text>
<use class="g" href="#o" stroke-width="73.7" transform="translate(426.24 494.75) scale(0.00488 -0.00488)"/>
<text class="t" x="431.80" y="494.75">2</text>
<use class="g" href="#o" stroke-width="73.7" transform="translate(446.74 494.75) scale(0.00488 -0.00488)"/>
<text class="t" x="452.30" y="494.75">4</text>
<use class="g" href="#o" stroke-width="73.7" transform="translate(467.24 494.75) scale(0.00488 -0.00488)"/>
<text class="t" x="472.80" y="494.75">6</text>
<text class="t" x="391.02" y="509.60" text-anchor="middle"><tspan font-style="italic">j</tspan><tspan dx="1.1">'</tspan></text>
<text class="t" transform="translate(41.7 168.45) rotate(-90)">Reaction rate coef. (cm<tspan class="s" dy="-4.6">3</tspan><tspan dy="4.6">s</tspan><tspan class="s" dy="-4.6">-</tspan><tspan dy="4.6" dx="4.45">)</tspan></text>
<use class="g" href="#o" stroke-width="92.2" transform="translate(37.10 52.97) rotate(-90) scale(0.00391 -0.00391)"/>
<text class="t" x="240.2" y="35.90" text-anchor="end">NGP</text>
<text class="t" x="240.2" y="46.30" text-anchor="end">GP</text>
<text class="t" transform="translate(41.7 428.95) rotate(-90)">Reaction rate coef. (cm<tspan class="s" dy="-4.6">3</tspan><tspan dy="4.6">s</tspan><tspan class="s" dy="-4.6">-</tspan><tspan dy="4.6" dx="4.45">)</tspan></text>
<use class="g" href="#o" stroke-width="92.2" transform="translate(37.10 313.47) rotate(-90) scale(0.00391 -0.00391)"/>
<text class="t" x="240.2" y="296.40" text-anchor="end">NGP</text>
<text class="t" x="240.2" y="306.80" text-anchor="end">GP</text>
</g>
<rect x="0.5" y="0.5" width="519" height="520" fill="none" stroke="#383838" stroke-width="1"/>
<rect x="0" y="259.9" width="520" height="1.1" fill="#2e2e2e"/>
</svg>
</body></html>
